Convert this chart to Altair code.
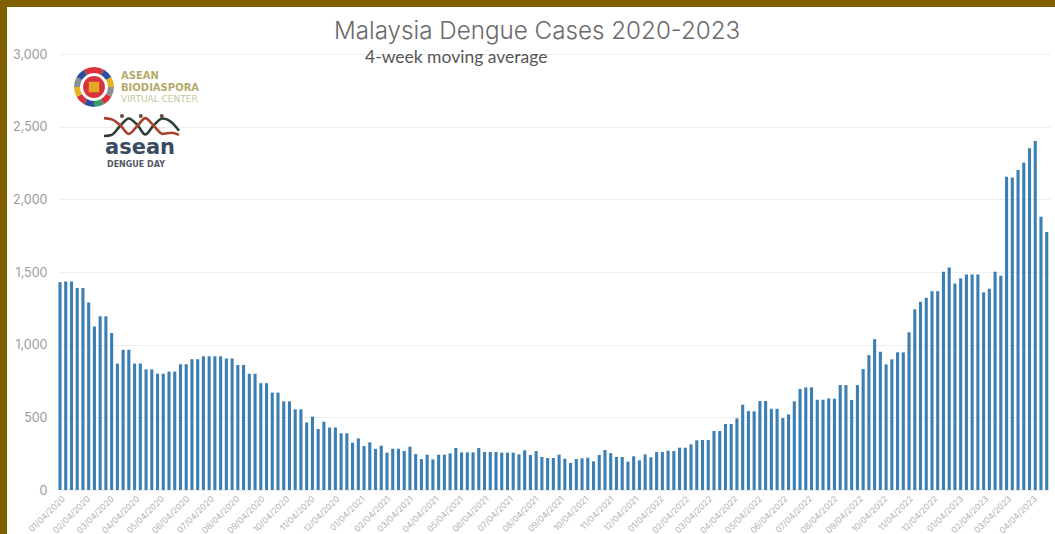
import altair as alt
import pandas as pd

# Weekly 4-week moving average of dengue cases, first week of January 2020 onward
cases_2020 = [1430, 1435, 1435, 1390, 1390, 1290, 1125, 1195, 1195, 1080, 870, 965, 965,
              870, 870, 830, 830, 800, 800, 815, 815, 865, 865, 900, 900, 920, 920, 920,
              920, 905, 905, 860, 860, 800, 800, 735, 735, 670, 670, 610, 610, 555, 555,
              465, 505, 420, 470, 430, 430, 390, 390]
cases_2021 = [325, 355, 302, 328, 283, 305, 257, 284, 284, 268, 298, 247, 213, 243, 211,
              243, 243, 252, 289, 259, 259, 259, 289, 262, 262, 262, 257, 257, 257, 245,
              273, 241, 268, 227, 220, 220, 243, 215, 186, 213, 218, 222, 197, 241, 275,
              254, 227, 227, 195, 232, 204, 245, 225, 261, 261, 270, 268, 291, 291, 314, 342]
cases_2022 = [344, 344, 406, 406, 454, 454, 493, 587, 543, 541, 612, 612, 559, 559, 495,
              520, 610, 695, 706, 706, 621, 621, 630, 628, 722, 722, 619, 722, 832, 928,
              1038, 951, 864, 899, 947, 947, 1085, 1243, 1295, 1323, 1368, 1368, 1502, 1531,
              1421, 1456, 1483, 1483, 1483, 1360, 1385, 1502, 1474, 2155, 2150, 2201, 2253,
              2352, 2402, 1880, 1776]
cases = cases_2020 + cases_2021 + cases_2022
week_start = "2020-01-04"
tick_dates = [d.strftime("%Y-%m-%d") for d in pd.date_range("2020-01-04", "2023-04-04", freq=pd.DateOffset(months=1))]
y_ticks = [0, 500, 1000, 1500, 2000, 2500, 3000]

title_text = "Malaysia Dengue Cases 2020-2023"
subtitle_text = "4-week moving average"

# Logo artwork: emblem ring segments and the two strands of the helix
ring_colors = ["#d8323c", "#2f4f9e", "#e6b422", "#8a8f98", "#d8323c", "#3f9a6b",
               "#2f4f9e", "#d8323c", "#e6b422", "#8a8f98", "#2f4f9e", "#d8323c"]
strand_x = [0, 10, 22, 33, 45, 55, 66, 78, 90, 100]
strand_dark = [5, 10, 55, 88, 55, 12, 55, 88, 70, 30]
strand_red = [90, 85, 55, 15, 55, 90, 55, 15, 20, 10]
dots_x = [24, 49, 77]
dots_y = [100, 100, 100]

weekly = pd.DataFrame({"week": pd.date_range(week_start, periods=len(cases), freq="7D"), "cases": cases})
ring = pd.DataFrame({"seg": list(range(len(ring_colors))), "share": [1] * len(ring_colors), "c": ring_colors})
strands = pd.concat([
    pd.DataFrame({"u": strand_x, "v": strand_dark, "s": "dark"}),
    pd.DataFrame({"u": strand_x, "v": strand_red, "s": "red"}),
])
dots = pd.DataFrame({"u": dots_x, "v": dots_y})

PAD_L, PAD_T, W, H = 60, 54, 990, 436
FONT = "Inter"
WIDE = "DejaVu Sans"

bars = alt.Chart(weekly).mark_bar(size=3.1, color="#3b7fb3").encode(
    x=alt.X("week:T", title=None,
            scale=alt.Scale(domain=["2020-01-04", "2023-04-26"], padding=0),
            axis=alt.Axis(values=tick_dates, format="%m/%d/%Y", labelAngle=-45, labelFontSize=8.5,
                          labelColor="#b0b0b0", labelFont=FONT, labelOverlap=False, labelPadding=4,
                          ticks=False, domain=False, grid=False, labelBound=False, labelFlush=False)),
    y=alt.Y("cases:Q", title=None,
            scale=alt.Scale(domain=[0, 3000]),
            axis=alt.Axis(values=y_ticks, format=",.0f", labelFontSize=12.5, labelColor="#9a9a9a", labelFont=FONT,
                          labelPadding=13, ticks=False, domain=False, gridColor="#eeeeee", gridWidth=1.2)),
)


def label(text, px, py, size, color, weight="normal", font=FONT):
    return alt.Chart(pd.DataFrame({"t": [text]})).mark_text(
        align="left", baseline="middle", fontSize=size, color=color, fontWeight=weight, font=font
    ).encode(text="t:N", x=alt.value(px - PAD_L), y=alt.value(py - PAD_T))


def strip(x0, x1, y0, y1):
    return alt.Chart(pd.DataFrame({"a": [0]})).mark_rect(color="#7f5f00").encode(
        x=alt.value(x0 - PAD_L), x2=alt.value(x1 - PAD_L), y=alt.value(y0 - PAD_T), y2=alt.value(y1 - PAD_T))


emblem_ring = alt.Chart(ring).mark_arc(innerRadius=14, outerRadius=20).encode(
    theta=alt.Theta("share:Q", stack=True), order=alt.Order("seg:Q"),
    color=alt.Color("c:N", scale=None), x=alt.value(94 - PAD_L), y=alt.value(87 - PAD_T))
emblem_disc = alt.Chart(pd.DataFrame({"a": [0]})).mark_point(filled=True, opacity=1, color="#d8323c", size=480).encode(
    x=alt.value(94 - PAD_L), y=alt.value(87 - PAD_T))
emblem_core = alt.Chart(pd.DataFrame({"a": [0]})).mark_square(opacity=1, color="#e6a822", size=110).encode(
    x=alt.value(94 - PAD_L), y=alt.value(87 - PAD_T))

logo_x = alt.Scale(domain=[0, 100], range=[104 - PAD_L, 179 - PAD_L])
logo_y = alt.Scale(domain=[0, 100], range=[137 - PAD_T, 116 - PAD_T])
helix = alt.Chart(strands).mark_line(strokeWidth=2.6, interpolate="monotone").encode(
    x=alt.X("u:Q", scale=logo_x, axis=None),
    y=alt.Y("v:Q", scale=logo_y, axis=None),
    color=alt.Color("s:N", scale=alt.Scale(domain=["dark", "red"], range=["#2d3f34", "#a8432f"]), legend=None),
)
helix_dots = alt.Chart(dots).mark_circle(size=16, color="#6b4a44", opacity=1).encode(
    x=alt.X("u:Q", scale=logo_x, axis=None),
    y=alt.Y("v:Q", scale=logo_y, axis=None),
)

chart = alt.layer(
    bars,
    strip(0, 7, 0, 534),
    strip(0, 1055, 0, 7),
    label(title_text, 334, 32, 24.2, "#6a6a6a", 300),
    label(subtitle_text, 365, 58, 17.5, "#555555", font="Lato"),
    emblem_ring, emblem_disc, emblem_core,
    label("ASEAN", 121, 76, 10, "#b5a96a", "bold", WIDE),
    label("BIODIASPORA", 121, 88, 10, "#b5a96a", "bold", WIDE),
    label("VIRTUAL CENTER", 121, 99, 9, "#c8c4a0", font=WIDE),
    helix, helix_dots,
    label("asean", 105, 148, 21, "#3a4a63", "bold", font=WIDE),
    label("DENGUE DAY", 107, 165, 8, "#555a66", "bold", WIDE),
).resolve_scale(x="independent", y="independent", color="independent", theta="independent").properties(
    width=W, height=H,
    padding={"left": PAD_L, "top": PAD_T, "right": 1055 - PAD_L - W, "bottom": 534 - PAD_T - H},
    autosize=alt.AutoSizeParams(type="none"),
    background="white",
).configure_view(stroke=None)

chart.save("out.html", embed_options={"renderer": "svg", "actions": False})
